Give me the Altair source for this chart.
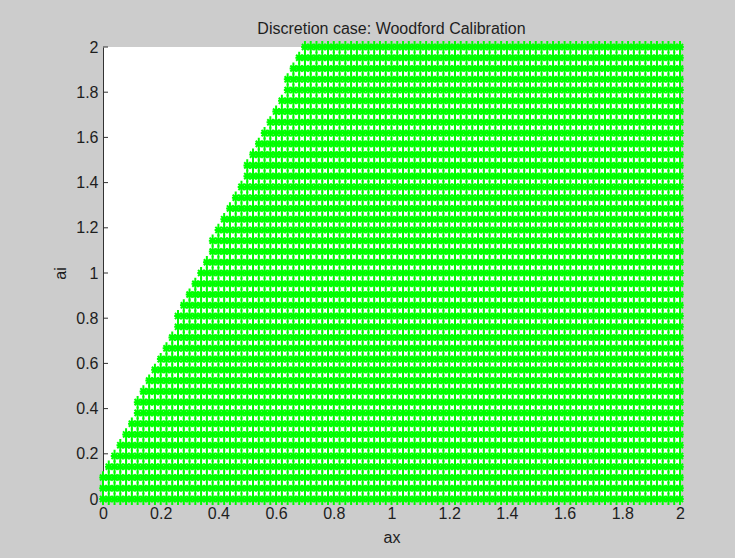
import altair as alt
import pandas as pd

# --- data ---
title_text = "Discretion case: Woodford Calibration"
x_title = "ax"
y_title = "ai"

# ai rows of the grid (43 rows between 0 and 2)
ai_rows = [0.0, 0.0476, 0.0952, 0.1429, 0.1905, 0.2381, 0.2857, 0.3333, 0.381,
           0.4286, 0.4762, 0.5238, 0.5714, 0.619, 0.6667, 0.7143, 0.7619, 0.8095,
           0.8571, 0.9048, 0.9524, 1.0, 1.0476, 1.0952, 1.1429, 1.1905, 1.2381,
           1.2857, 1.3333, 1.381, 1.4286, 1.4762, 1.5238, 1.5714, 1.619, 1.6667,
           1.7143, 1.7619, 1.8095, 1.8571, 1.9048, 1.9524, 2.0]
# smallest ax that is marked on each ai row (left edge of the green region)
row_min_ax = [0.0, 0.0, 0.0, 0.02, 0.04, 0.06, 0.08, 0.10, 0.12, 0.12, 0.14, 0.16,
              0.18, 0.20, 0.22, 0.24, 0.26, 0.26, 0.28, 0.30, 0.32, 0.34, 0.36,
              0.38, 0.38, 0.40, 0.42, 0.44, 0.46, 0.48, 0.50, 0.50, 0.52, 0.54,
              0.56, 0.58, 0.60, 0.62, 0.64, 0.64, 0.66, 0.68, 0.70]
# ax grid columns (step 0.02 from 0 to 2)
ax_grid = [i / 50 for i in range(101)]

tick_values = [0, 0.2, 0.4, 0.6, 0.8, 1, 1.2, 1.4, 1.6, 1.8, 2]

rows = []
for ai, lo in zip(ai_rows, row_min_ax):
    for ax in ax_grid:
        if ax >= lo - 1e-9:
            rows.append({"ax": ax, "ai": ai})
df = pd.DataFrame(rows)
ticks_df = pd.DataFrame({"ax": tick_values, "ai": tick_values})

FONT = "Liberation Sans"
FS = 16
TXT = "#1e1e1e"
xscale = alt.Scale(domain=[0, 2], nice=False, zero=False)
yscale = alt.Scale(domain=[0, 2], nice=False, zero=False)

x_axis = alt.Axis(
    values=tick_values, title=x_title, tickSize=0, domainColor="#333333",
    labelFont=FONT, labelFontSize=FS, labelColor=TXT, labelPadding=6,
    labelExpr="datum.value", titleFont=FONT, titleFontSize=FS,
    titleFontWeight="normal", titleColor=TXT, titleBaseline="middle",
    titleY=38, grid=False, labelFlush=False)
y_axis = alt.Axis(
    values=tick_values, title=y_title, tickSize=0, domainColor="#333333",
    labelFont=FONT, labelFontSize=FS, labelColor=TXT, labelPadding=5,
    labelExpr="datum.value", titleFont=FONT, titleFontSize=FS,
    titleFontWeight="normal", titleColor=TXT, titleBaseline="middle",
    titleX=-43, titleY=226, titleAngle=270, grid=False, labelFlush=False)

star = "M0,-1L0,1M-0.62,0L0.62,0M-0.5,-0.5L0.5,0.5M-0.5,0.5L0.5,-0.5"

points = alt.Chart(df).mark_point(
    shape=star, filled=False, stroke="#00ff00", strokeWidth=2, size=150,
    opacity=1, clip=False
).encode(
    x=alt.X("ax:Q", scale=xscale, axis=x_axis),
    y=alt.Y("ai:Q", scale=yscale, axis=y_axis),
)

ytick = alt.Chart(ticks_df).mark_rule(color="#333333", strokeWidth=1).encode(
    y=alt.Y("ai:Q", scale=yscale, axis=y_axis),
    x=alt.value(0), x2=alt.value(5),
)
xtick = alt.Chart(ticks_df).mark_rule(color="#333333", strokeWidth=1).encode(
    x=alt.X("ax:Q", scale=xscale, axis=x_axis),
    y=alt.value(452), y2=alt.value(447),
)

chart = alt.layer(ytick, xtick, points).properties(
    width=577, height=452,
    title=alt.TitleParams(title_text, font=FONT, fontSize=FS, fontWeight="normal",
                          color=TXT, offset=0, anchor="middle"),
    autosize=alt.AutoSizeParams(type="none"),
    padding={"left": 103, "top": 47, "right": 55, "bottom": 59},
    background="#cccccc",
).configure_view(fill="white", stroke=None)

chart.save("out.html", embed_options={"renderer": "svg", "actions": False})
